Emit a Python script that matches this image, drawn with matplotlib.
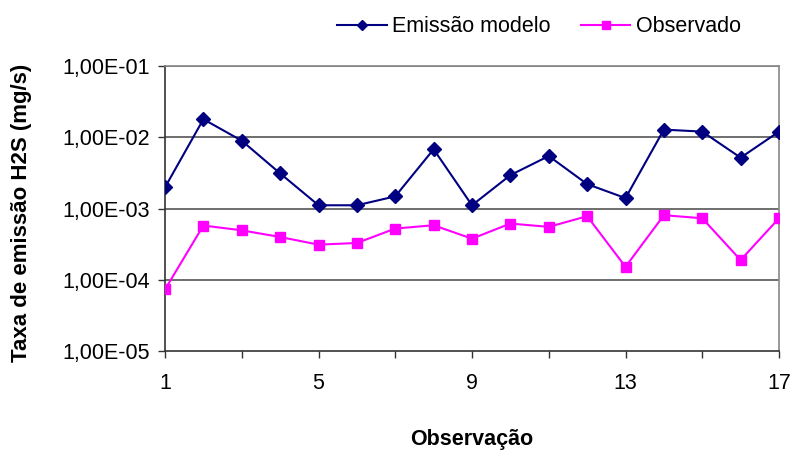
import matplotlib
matplotlib.use("Agg")
import matplotlib.pyplot as plt
from matplotlib.ticker import FixedLocator, FixedFormatter, NullFormatter

plt.rcParams['font.family'] = ['Liberation Sans', 'DejaVu Sans']

observacao = list(range(1, 18))
emissao_modelo = [1.98e-3, 1.79e-2, 8.95e-3, 3.11e-3, 1.11e-3, 1.11e-3, 1.48e-3, 6.78e-3, 1.11e-3,
                  2.94e-3, 5.45e-3, 2.20e-3, 1.40e-3, 1.28e-2, 1.20e-2, 5.17e-3, 1.20e-2]
observado = [7.3e-5, 5.77e-4, 4.94e-4, 3.98e-4, 3.11e-4, 3.28e-4, 5.23e-4, 5.82e-4, 3.77e-4,
             6.15e-4, 5.52e-4, 7.8e-4, 1.52e-4, 8.05e-4, 7.3e-4, 1.89e-4, 7.3e-4]
ytick_vals = [1e-5, 1e-4, 1e-3, 1e-2, 1e-1]
ytick_labels = ["1,00E-05", "1,00E-04", "1,00E-03", "1,00E-02", "1,00E-01"]
xtick_major = [1, 5, 9, 13, 17]
xtick_minor = [3, 7, 11, 15]

fig = plt.figure(figsize=(7.92, 4.51), dpi=100)
ax = fig.add_axes([165/792, 1-351/451, (779-165)/792, (351-66)/451])

ax.set_yscale('log')
ax.set_ylim(1e-5, 1e-1)
ax.set_xlim(1, 17)

for v in ytick_vals[1:]:
    ax.axhline(v, color='#555555', lw=1.2, zorder=1)

l1, = ax.plot(observacao, emissao_modelo, color='#000080', lw=1.5, marker='D', markersize=7,
              markerfacecolor='#000080', markeredgecolor='#000080', label='Emissão modelo', zorder=3)
l2, = ax.plot(observacao, observado, color='#FF00FF', lw=1.5, marker='s', markersize=7.5,
              markerfacecolor='#FF00FF', markeredgecolor='#FF00FF', label='Observado', zorder=3)

ax.yaxis.set_major_locator(FixedLocator(ytick_vals))
ax.yaxis.set_major_formatter(FixedFormatter(ytick_labels))
ax.yaxis.set_minor_locator(FixedLocator([]))
ax.xaxis.set_major_locator(FixedLocator(xtick_major))
ax.xaxis.set_minor_locator(FixedLocator(xtick_minor))
ax.xaxis.set_minor_formatter(NullFormatter())
ax.set_xticklabels([str(v) for v in xtick_major])

ax.tick_params(axis='both', which='both', direction='out', length=5, width=1, colors='#333333',
               labelcolor='black', labelsize=15.5)
ax.tick_params(axis='x', pad=11)
ax.tick_params(axis='y', pad=6)

ax.spines['left'].set_color('#333333')
ax.spines['bottom'].set_color('#333333')
ax.spines['top'].set_color('#888888')
ax.spines['right'].set_color('#888888')
for s in ax.spines.values():
    s.set_linewidth(1.2)

fig.text(22/792, 1-213/451, 'Taxa de emissão H2S (mg/s)', fontsize=16, fontweight='bold',
         rotation=90, ha='center', va='center')
fig.text(472/792, 1-440/451, 'Observação', fontsize=15.5, fontweight='bold', ha='center', va='center')

leg = fig.legend(handles=[l1, l2], loc='center', bbox_to_anchor=(539/792, 1-27/451), ncol=2,
                 frameon=False, fontsize=15.5, handlelength=2.3, columnspacing=1.4, handletextpad=0.25,
                 markerscale=0.8, borderpad=0, borderaxespad=0)

fig.savefig('out.png', dpi=100, facecolor='white')
